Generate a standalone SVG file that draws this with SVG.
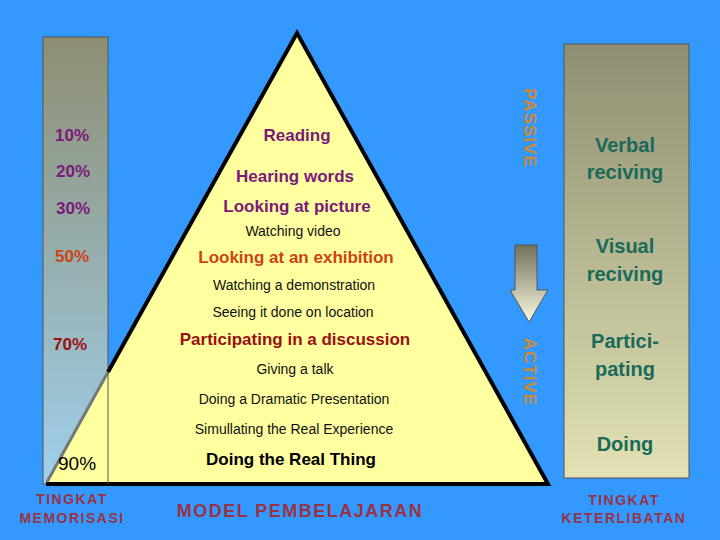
<svg xmlns="http://www.w3.org/2000/svg" width="720" height="540" viewBox="0 0 720 540">
<defs>
<linearGradient id="gl" x1="0" y1="0" x2="0" y2="1"><stop offset="0" stop-color="#8e8e72"/><stop offset="1" stop-color="#9fd0ec"/></linearGradient>
<linearGradient id="gr" x1="0" y1="0" x2="0" y2="1"><stop offset="0" stop-color="#8e8e72"/><stop offset="1" stop-color="#e2e2b4"/></linearGradient>
<linearGradient id="ga" x1="0" y1="0" x2="0" y2="1"><stop offset="0" stop-color="#70705c"/><stop offset="1" stop-color="#fafae0"/></linearGradient>
<style>
text{font-family:"Liberation Sans",Arial,sans-serif;text-anchor:middle}
.b{font-weight:bold;font-size:17px}
.r{font-size:14px;fill:#111}
.p{font-weight:bold;font-size:17px;text-anchor:start}
.g{font-weight:bold;font-size:20px;fill:#1a6a5a}
.f{font-weight:bold;font-size:14px;fill:#993344;letter-spacing:1.5px}
.v{font-weight:bold;font-size:17px;fill:#cc8833;letter-spacing:1px}
</style>
</defs>
<rect width="720" height="540" fill="#3399ff"/>
<g id="left-bar"><rect x="43" y="37" width="65" height="447" fill="url(#gl)" stroke="#555" stroke-width="1"/></g>
<g id="right-bar"><rect x="564" y="44" width="125" height="434" fill="url(#gr)" stroke="#555" stroke-width="1"/></g>
<g id="pyramid">
<polygon points="297,33 548,484 46,484" fill="#ffffa0"/>
<polyline points="108,372 297,33 548,484 46,484" fill="none" stroke="#000" stroke-width="4" stroke-linejoin="miter"/>
<line x1="108" y1="372" x2="47" y2="482" stroke="#777" stroke-width="3"/>
<line x1="108" y1="372" x2="108" y2="484" stroke="#555" stroke-width="1"/>
</g>
<g id="arrow"><polygon points="515,245 537,245 537,290 548,290 529,322 510,290 515,290" fill="url(#ga)" stroke="#555" stroke-width="1"/></g>
<g id="labels">
<text class="v" transform="translate(524,128) rotate(90)">PASSIVE</text>
<text class="v" transform="translate(524,372) rotate(90)">ACTIVE</text>
<text class="b" x="297" y="141" fill="#7a1a7a">Reading</text>
<text class="b" x="295" y="182" fill="#7a1a7a">Hearing words</text>
<text class="b" x="297" y="212" fill="#7a1a7a">Looking at picture</text>
<text class="r" x="293" y="236">Watching video</text>
<text class="b" x="296" y="263" fill="#cc4411">Looking at an exhibition</text>
<text class="r" x="294" y="290">Watching a demonstration</text>
<text class="r" x="293" y="317">Seeing it done on location</text>
<text class="b" x="295" y="345" fill="#991111">Participating in a discussion</text>
<text class="r" x="295" y="374">Giving a talk</text>
<text class="r" x="294" y="404">Doing a Dramatic Presentation</text>
<text class="r" x="294" y="434">Simullating the Real Experience</text>
<text class="b" x="291" y="465" fill="#000">Doing the Real Thing</text>
<text class="p" x="55" y="141" fill="#7a1a7a">10%</text>
<text class="p" x="56" y="177" fill="#7a1a7a">20%</text>
<text class="p" x="56" y="214" fill="#7a1a7a">30%</text>
<text class="p" x="55" y="262" fill="#cc4411">50%</text>
<text class="p" x="53" y="350" fill="#991111">70%</text>
<text class="p" x="58" y="470" fill="#000" style="font-size:19px;font-weight:normal">90%</text>
<text class="g" x="625" y="152">Verbal</text>
<text class="g" x="625" y="179">reciving</text>
<text class="g" x="625" y="253">Visual</text>
<text class="g" x="625" y="281">reciving</text>
<text class="g" x="625" y="348" fill="#115544">Partici-</text>
<text class="g" x="625" y="376" fill="#115544">pating</text>
<text class="g" x="625" y="451" fill="#115544">Doing</text>
<text class="f" x="72" y="504">TINGKAT</text>
<text class="f" x="72" y="523">MEMORISASI</text>
<text class="f" x="300" y="517" style="font-size:18px">MODEL PEMBELAJARAN</text>
<text class="f" x="624" y="505">TINGKAT</text>
<text class="f" x="624" y="523">KETERLIBATAN</text>
</g>
</svg>
